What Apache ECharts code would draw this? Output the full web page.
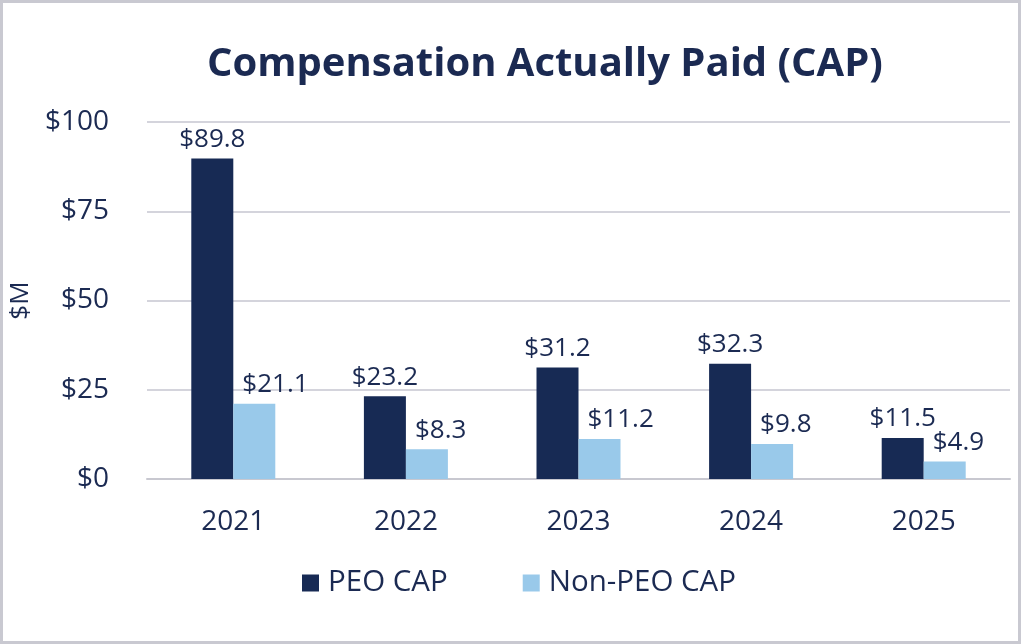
<!DOCTYPE html>
<html><head><meta charset="utf-8">
<script src="https://cdn.jsdelivr.net/npm/echarts@6/dist/echarts.min.js"></script>
<style>html,body{margin:0;padding:0;background:#fff}#c{width:1021px;height:644px}</style>
</head><body><div id="c"></div>
<script>
const categories = ['2021','2022','2023','2024','2025'];
const peoCap = [89.8, 23.2, 31.2, 32.3, 11.5];
const nonPeoCap = [21.1, 8.3, 11.2, 9.8, 4.9];
const seriesNames = ['PEO CAP', 'Non-PEO CAP'];
const titleText = 'Compensation Actually Paid (CAP)';
const yAxisName = '$M';

const textColor = '#1b2a52';
const font = '"Open Sans", "Noto Sans", sans-serif';
const chart = echarts.init(document.getElementById('c'));
const fmt = p => '$' + p.value.toFixed(1);
const lbl = {show:true, position:'top', distance:6, color:textColor, fontSize:26, fontFamily:font, formatter: fmt};
const lbl2 = Object.assign({}, lbl, {align:'left', offset:[-12, 0]});
chart.setOption({
  animation:false,
  graphic:[{type:'rect', shape:{x:1.5,y:1.5,width:1018,height:641}, style:{fill:'none', stroke:'#c9c9d1', lineWidth:3}, z:100}],
  title:{text:titleText, left:202, top:40, textStyle:{color:textColor, fontSize:40, fontWeight:'bold', fontFamily:font}},
  legend:{bottom:41, left:297, itemWidth:17, itemHeight:17, itemGap:75, icon:'rect',
    textStyle:{color:textColor, fontSize:29.5, fontFamily:font, padding:[0,0,0,4]}},
  grid:{left:147, right:11, top:122, bottom:165},
  xAxis:{type:'category', data:categories, axisTick:{show:false},
    axisLine:{lineStyle:{color:'#c8c8d0', width:2}},
    axisLabel:{color:textColor, fontSize:28, fontFamily:font, margin:29}},
  yAxis:{type:'value', min:0, max:100, interval:25, name:yAxisName, nameLocation:'middle', nameGap:112, nameRotate:90,
    nameTextStyle:{color:textColor, fontSize:26, fontFamily:font},
    axisLabel:{color:textColor, fontSize:28, fontFamily:font, margin:38, formatter: v => '$' + v},
    splitLine:{lineStyle:{color:'#d4d4dc', width:2}}},
  series:[
    {name:seriesNames[0], type:'bar', data:peoCap, barWidth:42, barGap:'0%', itemStyle:{color:'#172a54'}, label:lbl},
    {name:seriesNames[1], type:'bar', data:nonPeoCap, barWidth:42, itemStyle:{color:'#99c9ea'}, label:lbl2}
  ]
});
</script></body></html>
